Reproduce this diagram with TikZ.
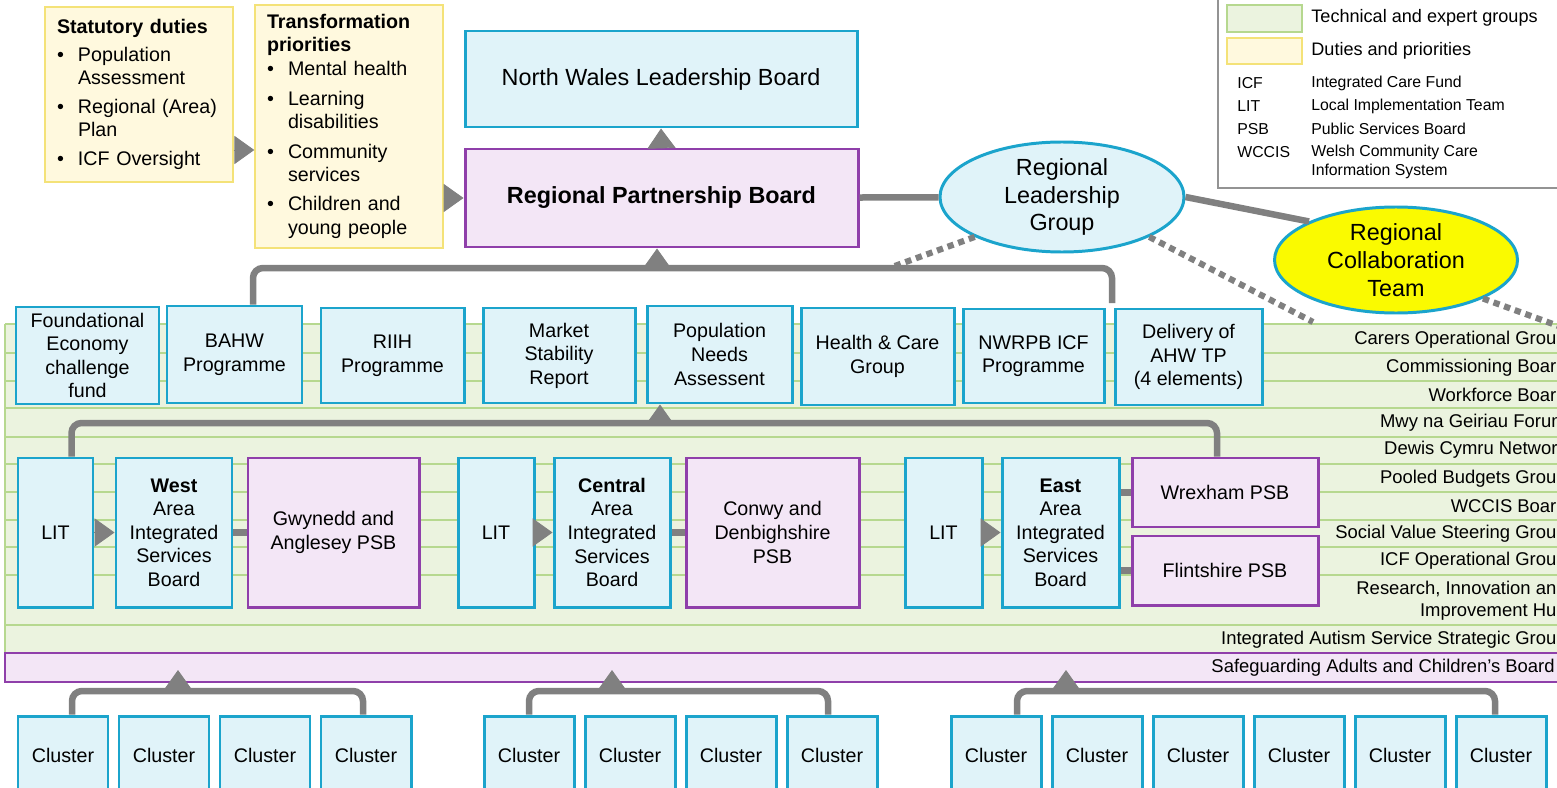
\documentclass[tikz,border=0pt]{standalone}
\usepackage{fontspec}
\setmainfont{Liberation Sans}
\usetikzlibrary{shapes.geometric,arrows.meta}
\newlength\pxu
\setlength\pxu{0.02cm}
\definecolor{boxblue}{RGB}{27,164,204}
\definecolor{boxfill}{RGB}{224,243,249}
\definecolor{psbline}{RGB}{143,63,170}
\definecolor{psbfill}{RGB}{243,230,246}
\definecolor{dutyline}{RGB}{244,226,120}
\definecolor{dutyfill}{RGB}{255,249,222}
\definecolor{grpfill}{RGB}{235,243,223}
\definecolor{grpline}{RGB}{182,216,143}
\definecolor{linkgray}{RGB}{128,128,128}
\definecolor{rctfill}{RGB}{250,250,0}
\tikzset{
    every node/.style={font=\fontsize{11.2}{13.4}\selectfont},
    bbox/.style={draw=boxblue, fill=boxfill, line width=1.7pt, inner sep=0pt, align=center},
    pbox/.style={bbox, draw=psbline, fill=psbfill},
    dbox/.style={draw=dutyline, fill=dutyfill, line width=0.8pt, inner xsep=12\pxu, inner ysep=0pt, text width=164\pxu, align=left},
    bigtxt/.style={font=\fontsize{13.3}{15.9}\selectfont},
    oval/.style={ellipse, draw=boxblue, line width=1.7pt, inner sep=0pt, align=center, bigtxt},
    bar/.style={draw=linkgray, line width=3.7pt, rounded corners=10\pxu},
    dotbar/.style={draw=linkgray, line width=3.5pt, dash pattern=on 3.6pt off 2.8pt},
    tri/.style={draw=linkgray, line width=0.5pt, -{Triangle[length=11.3pt,width=16pt]}},
    grplbl/.style={anchor=east, inner sep=0pt, align=right, font=\fontsize{10.5}{12.5}\selectfont},
    legtxt/.style={anchor=west, inner sep=0pt, align=left, font=\fontsize{10.3}{12}\selectfont},
    abbr/.style={anchor=west, inner sep=0pt, align=left, font=\fontsize{9}{10.8}\selectfont},
}
\begin{document}
\begin{tikzpicture}[x=0.02cm, y=-0.02cm]
    \useasboundingbox (0,0) rectangle (1557,787);
    \clip (0,0) rectangle (1557,787);
    \fill[grpfill] (5,324) rectangle (1575,653);
    \foreach \y in {324,353,381,408,437,464,492,520,547,575,625}
        \draw[grpline, line width=1pt] (5,\y) -- (1575,\y);
    \draw[grpline, line width=1pt] (5,324) -- (5,653);
    \draw[psbline, line width=0.6pt, fill=psbfill] (5,653) rectangle (1575,682);
    \foreach \y/\t in {340/Carers Operational Group, 368/Commissioning Board,
        395/Workforce Board, 423/Mwy na Geiriau Forum, 450/Dewis Cymru Network,
        479/Pooled Budgets Group, 506/WCCIS Board, 534/Social Value Steering Group,
        561/ICF Operational Group, 601/{Research, Innovation and\\Improvement Hub},
        640/Integrated Autism Service Strategic Group}
        \node[grplbl] (grp\y) at (1567,\y) {\t};
    \node[grplbl] (sgd) at (1555,668) {Safeguarding Adults and Children's Board};
    % legend
    \draw[linkgray!85, line width=1.1pt, fill=white] (1218,-10) rectangle (1575,188);
    \draw[grpline, fill=grpfill, line width=0.8pt] (1227,5) rectangle (1302,32);
    \draw[dutyline, fill=dutyfill, line width=0.8pt] (1227,38) rectangle (1302,64);
    \node[legtxt] (lg1) at (1311,18) {Technical and expert groups};
    \node[legtxt] (lg2) at (1311,51) {Duties and priorities};
    \foreach \y/\a/\t in {83/ICF/Integrated Care Fund, 106/LIT/Local Implementation Team,
        129/PSB/Public Services Board}{
        \node[abbr] (ab\y) at (1237,\y) {\a};
        \node[abbr] (ex\y) at (1311,\y) {\t};
    }
    \node[abbr] (ab152) at (1237,152) {WCCIS};
    \node[abbr] (ex152) at (1311,161.5) {Welsh Community Care\\Information System};
    % duties and boards
    \node[dbox, minimum height=175\pxu] (duty) at (139,94.5) {%
        \begin{tabular}{@{}p{21\pxu}@{}l@{}}
        \multicolumn{2}{@{}l@{}}{\textbf{Statutory duties}}\\[2.5pt]
        \textbullet & Population\\
        & Assessment\\[2.8pt]
        \textbullet & Regional (Area)\\
        & Plan\\[2.8pt]
        \textbullet & ICF Oversight
        \end{tabular}};
    \node[dbox, minimum height=243\pxu] (trans) at (349,126.5) {%
        \begin{tabular}{@{}p{21\pxu}@{}l@{}}
        \multicolumn{2}{@{}l@{}}{\textbf{Transformation}}\\
        \multicolumn{2}{@{}l@{}}{\textbf{priorities}}\\
        \textbullet & Mental health\\[3.5pt]
        \textbullet & Learning\\
        & disabilities\\[3.5pt]
        \textbullet & Community\\
        & services\\[3pt]
        \textbullet & Children and\\
        & young people
        \end{tabular}};
    \node[bbox, bigtxt, minimum width=392\pxu, minimum height=96\pxu] (nwlb) at (661,79) {North Wales Leadership Board};
    \node[pbox, bigtxt, minimum width=393\pxu, minimum height=98\pxu] (rpb) at (661.5,198) {\textbf{Regional Partnership Board}};
    \node[oval, fill=boxfill, minimum width=244\pxu, minimum height=110\pxu] (rlg) at (1062,197) {Regional\\Leadership\\Group};
    \node[oval, fill=rctfill, minimum width=243\pxu, minimum height=106\pxu] (rct) at (1396,260) {Regional\\Collaboration\\Team};
    % programmes
    \node[bbox, minimum width=143\pxu, minimum height=97\pxu] (p1) at (87.5,355.5) {Foundational\\Economy\\challenge\\fund};
    \node[bbox, minimum width=135\pxu, minimum height=97\pxu] (p2) at (234.5,354.5) {BAHW\\Programme};
    \node[bbox, minimum width=143\pxu, minimum height=95\pxu] (p3) at (392.5,355.5) {RIIH\\Programme};
    \node[bbox, minimum width=152\pxu, minimum height=95\pxu] (p4) at (559,355.5) {Market\\Stability\\Report};
    \node[bbox, minimum width=145\pxu, minimum height=97\pxu] (p5) at (719.5,354.5) {Population\\Needs\\Assessent};
    \node[bbox, minimum width=153\pxu, minimum height=97\pxu] (p6) at (877.5,356.5) {Health \& Care\\Group};
    \node[bbox, minimum width=141\pxu, minimum height=94\pxu] (p7) at (1033.5,356) {NWRPB ICF\\Programme};
    \node[bbox, minimum width=147\pxu, minimum height=96\pxu] (p8) at (1188.5,357) {Delivery of\\AHW TP\\(4 elements)};
    % areas
    \node[bbox, minimum width=75\pxu, minimum height=149\pxu] (lit1) at (55.5,532.5) {LIT};
    \node[bbox, minimum width=116\pxu, minimum height=149\pxu] (aisb1) at (174,532.5) {\textbf{West}\\Area\\Integrated\\Services\\Board};
    \node[pbox, minimum width=171\pxu, minimum height=149\pxu] (psb1) at (333.5,532.5) {Gwynedd and\\Anglesey PSB};
    \node[bbox, minimum width=76\pxu, minimum height=149\pxu] (lit2) at (496,532.5) {LIT};
    \node[bbox, minimum width=116\pxu, minimum height=149\pxu] (aisb2) at (612,532.5) {\textbf{Central}\\Area\\Integrated\\Services\\Board};
    \node[pbox, minimum width=173\pxu, minimum height=149\pxu] (psb2) at (772.5,532.5) {Conwy and\\Denbighshire\\PSB};
    \node[bbox, minimum width=77\pxu, minimum height=149\pxu] (lit3) at (943.5,532.5) {LIT};
    \node[bbox, minimum width=117\pxu, minimum height=149\pxu] (aisb3) at (1060.5,532.5) {\textbf{East}\\Area\\Integrated\\Services\\Board};
    \node[pbox, minimum width=186\pxu, minimum height=69\pxu] (wrex) at (1225,492.5) {Wrexham PSB};
    \node[pbox, minimum width=186\pxu, minimum height=69\pxu] (flint) at (1225,570.5) {Flintshire PSB};
    \foreach \x [count=\i] in {63,164,265,366,529,630,731,832,996,1097,1198,1299,1400,1501}
        \node[bbox, minimum width=90\pxu, minimum height=79\pxu] (cl\i) at (\x,755.5) {Cluster};
    % links
    \draw[tri] (duty.east |- 0,150) -- (trans.west |- 0,150);
    \draw[tri] (trans.east |- rpb) -- (rpb.west);
    \draw[tri] (rpb.north) -- (nwlb.south);
    \draw[bar] (rpb) -- (rlg);
    \draw[bar] (rlg.east) -- (rct.north west);
    \coordinate (d1) at (892,267);
    \coordinate (d2) at (1313,322);
    \coordinate (d3) at (1575,332);
    \draw[dotbar] (rlg.south west) -- (d1);
    \draw[dotbar] (rlg.south east) -- (d2);
    \draw[dotbar] (rct.south east) -- (d3);
    \coordinate (b1) at (657,268);
    \coordinate (b1r) at (1112,303);
    \draw[bar] ([xshift=18.5\pxu]p2.north) |- (b1) -| (b1r);
    \draw[tri] (b1) -- (b1 |- rpb.south);
    \coordinate (b2) at (660,423);
    \draw[bar] ([xshift=16\pxu]lit1.north) |- (b2) -| ([xshift=-8\pxu]wrex.north);
    \draw[tri] (b2) -- (b2 |- p5.south);
    \draw[tri] (lit1) -- (aisb1);
    \draw[tri] (lit2) -- (aisb2);
    \draw[tri] (lit3) -- (aisb3);
    \draw[bar] (aisb1) -- (psb1);
    \draw[bar] (aisb2) -- (psb2);
    \draw[bar] (aisb3.east |- wrex) -- (wrex.west);
    \draw[bar] (aisb3.east |- flint) -- (flint.west);
    \coordinate (g1) at (178,691);
    \coordinate (g1t) at (178,670);
    \coordinate (g2) at (612,691);
    \coordinate (g2t) at (612,670);
    \coordinate (g3) at (1066,691);
    \coordinate (g3t) at (1066,670);
    \draw[bar] ([xshift=9\pxu]cl1.north) |- (g1) -| ([xshift=-3\pxu]cl4.north);
    \draw[bar] (cl5.north) |- (g2) -| ([xshift=-4\pxu]cl8.north);
    \draw[bar] ([xshift=21\pxu]cl9.north) |- (g3) -| ([xshift=-6\pxu]cl14.north);
    \draw[tri] (g1) -- (g1t);
    \draw[tri] (g2) -- (g2t);
    \draw[tri] (g3) -- (g3t);
\end{tikzpicture}
\end{document}
